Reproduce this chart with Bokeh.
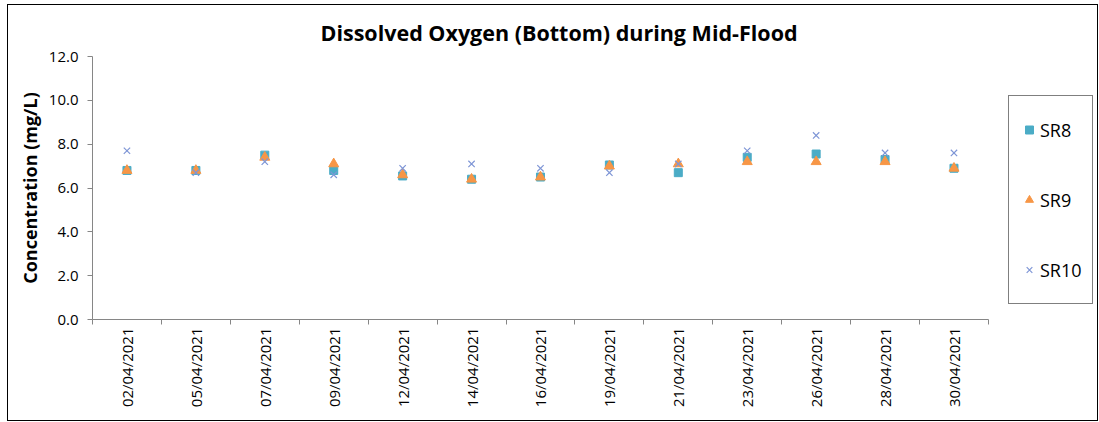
from bokeh.plotting import figure
from bokeh.models import (Range1d, LinearAxis, FixedTicker, Legend, LegendItem,
                          NumeralTickFormatter, Title)
from bokeh.embed import file_html
from bokeh.resources import INLINE

dates = ["02/04/2021", "05/04/2021", "07/04/2021", "09/04/2021", "12/04/2021", "14/04/2021",
         "16/04/2021", "19/04/2021", "21/04/2021", "23/04/2021", "26/04/2021", "28/04/2021",
         "30/04/2021"]
sr8 = [6.8, 6.8, 7.5, 6.8, 6.55, 6.4, 6.5, 7.05, 6.7, 7.4, 7.55, 7.3, 6.9]
sr9 = [6.8, 6.8, 7.4, 7.1, 6.6, 6.4, 6.5, 7.0, 7.1, 7.2, 7.2, 7.2, 6.9]
sr10 = [7.7, 6.7, 7.2, 6.6, 6.9, 7.1, 6.9, 6.7, 7.1, 7.7, 8.4, 7.6, 7.6]
y_ticks = [0, 2, 4, 6, 8, 10, 12]

FONT = "Open Sans"
AX = "#868686"

n = len(dates)
xpos = [i + 0.5 for i in range(n)]   # category centres
bounds_ticks = list(range(n + 1))     # category boundaries (Excel-style ticks)

p = figure(width=1091, height=417, output_backend="svg", toolbar_location=None,
           x_range=Range1d(0, 14.597), y_range=Range1d(0, 12),
           x_axis_location=None, y_axis_location=None,
           min_border_left=84, min_border_right=1, min_border_top=51, min_border_bottom=103)
p.styles = {"border": "1px solid #000", "box-sizing": "border-box",
            "margin-left": "7px", "margin-top": "4px"}
p.outline_line_color = None
p.xgrid.visible = False
p.ygrid.visible = False
p.background_fill_color = "white"
p.border_fill_color = "white"

t = Title(text="Dissolved Oxygen (Bottom) during Mid-Flood", align="left", offset=228,
          text_font=FONT, text_font_size="21.5px", text_font_style="bold", text_color="#000000",
          standoff=19)
p.add_layout(t, "above")

# y axis
ya = LinearAxis(ticker=FixedTicker(ticks=y_ticks), formatter=NumeralTickFormatter(format="0.0"),
                axis_label="Concentration (mg/L)")
ya.axis_line_color = AX
ya.major_tick_line_color = AX
ya.major_tick_in = 0
ya.major_tick_out = 5
ya.minor_tick_line_color = None
ya.major_label_text_font = FONT
ya.major_label_text_font_size = "15px"
ya.major_label_text_color = "#000000"
ya.major_label_standoff = 9
ya.axis_label_text_font = FONT
ya.axis_label_text_font_size = "18px"
ya.axis_label_text_font_style = "bold"
ya.axis_label_text_color = "#000000"
ya.axis_label_standoff = 4
p.add_layout(ya, "left")

# boundary ticks axis
ba = LinearAxis(ticker=FixedTicker(ticks=bounds_ticks), bounds=(0, n),
                major_label_overrides={i: "" for i in bounds_ticks})
ba.axis_line_color = AX
ba.major_tick_line_color = AX
ba.major_tick_in = 0
ba.major_tick_out = 5
ba.minor_tick_line_color = None
ba.major_label_text_font_size = "1px"
ba.major_label_standoff = 0
p.add_layout(ba, "below")

# category labels axis
xa = LinearAxis(ticker=FixedTicker(ticks=xpos),
                major_label_overrides={x: d for x, d in zip(xpos, dates)})
xa.axis_line_color = None
xa.major_tick_line_color = None
xa.minor_tick_line_color = None
xa.major_label_orientation = 1.5707963
xa.major_label_text_font = FONT
xa.major_label_text_font_size = "15px"
xa.major_label_text_color = "#000000"
xa.major_label_standoff = -3
p.add_layout(xa, "below")

r8 = p.scatter(xpos, sr8, marker="square", size=8, fill_color="#4BACC6", line_color="#4BACC6")
r9 = p.scatter(xpos, sr9, marker="triangle", size=10, fill_color="#F79646", line_color="#F79646")
r10 = p.scatter(xpos, sr10, marker="x", size=9, line_color="#7F96D6", line_width=1.2)

leg = Legend(items=[LegendItem(label="SR8", renderers=[r8]),
                    LegendItem(label="SR9", renderers=[r9]),
                    LegendItem(label="SR10", renderers=[r10])],
             location=(916, 15), orientation="vertical")
leg.border_line_color = "#000000"
leg.border_line_width = 1
leg.background_fill_color = "white"
leg.background_fill_alpha = 1
leg.padding = 10
leg.margin = 0
leg.spacing = 23
leg.glyph_width = 20
leg.glyph_height = 47
leg.label_height = 47
leg.label_standoff = 1
leg.label_text_font = FONT
leg.label_text_font_size = "18px"
leg.label_text_color = "#000000"
p.add_layout(leg, "center")

open("out.html", "w").write(file_html(p, INLINE))
